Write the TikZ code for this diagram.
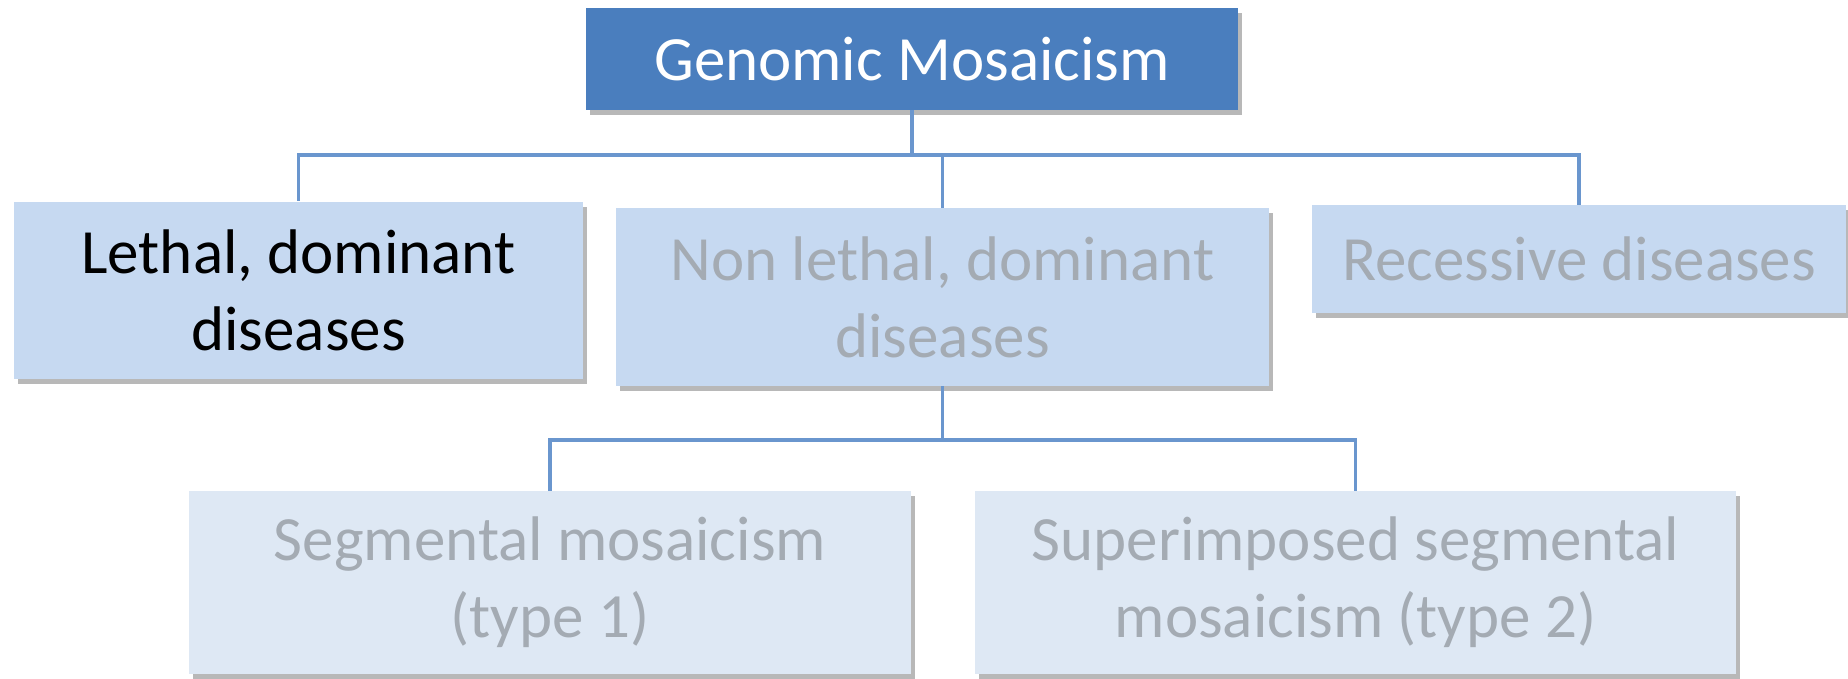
\documentclass[tikz,border=0pt]{standalone}
\usepackage{fontspec}
\setmainfont{Carlito}
\usetikzlibrary{shadows,positioning}
\definecolor{topfill}{HTML}{4A7EBE}
\definecolor{midfill}{HTML}{C6D9F1}
\definecolor{lowfill}{HTML}{DEE8F4}
\definecolor{greytext}{HTML}{A4ABB3}
\definecolor{linkcol}{HTML}{6A96CE}
\tikzset{
  boxbase/.style={rectangle, inner sep=0pt, align=center,
    font=\fontsize{63}{77}\selectfont,
    drop shadow={shadow xshift=4pt, shadow yshift=-5pt, fill=black, opacity=0.28}},
  topbox/.style={boxbase, fill=topfill, text=white},
  activebox/.style={boxbase, fill=midfill, text=black},
  fadedbox/.style={boxbase, fill=midfill, text=greytext},
  lowbox/.style={boxbase, fill=lowfill, text=greytext},
  link/.style={draw=linkcol, line width=3.4pt}
}
\begin{document}
\begin{tikzpicture}[x=1pt,y=-1pt]
\useasboundingbox[fill=white] (0,0) rectangle (1848,678);
% nodes
\node[topbox, minimum width=652pt, minimum height=102pt] (top) at (912,59) {Genomic Mosaicism};
\node[activebox, minimum width=569pt, minimum height=177pt] (lethal) at (298.5,290) {Lethal, dominant\\diseases};
\node[fadedbox, minimum width=653pt, minimum height=178pt] (nonlethal) at (942.5,297) {Non lethal, dominant\\diseases};
\node[fadedbox, minimum width=534pt, minimum height=108pt] (recessive) at (1579,259) {Recessive diseases};
\node[lowbox, minimum width=722pt, minimum height=183pt] (seg) at (550,582.5) {Segmental mosaicism\\(type 1)};
\node[lowbox, minimum width=761pt, minimum height=183pt] (sup) at (1355.5,582.5) {Superimposed segmental\\mosaicism (type 2)};
% bus coordinates
\coordinate (busA) at (912,155);
\coordinate (busB) at (943,440);
% connectors
\draw[link] (top.south) -- (top.south |- busA) -| (lethal.north);
\draw[link] (top.south |- busA) -| (nonlethal.north);
\draw[link] (top.south |- busA) -| (recessive.north);
\draw[link] (nonlethal.south) -- (nonlethal.south |- busB) -| (seg.north);
\draw[link] (nonlethal.south |- busB) -| (sup.north);
\end{tikzpicture}
\end{document}
